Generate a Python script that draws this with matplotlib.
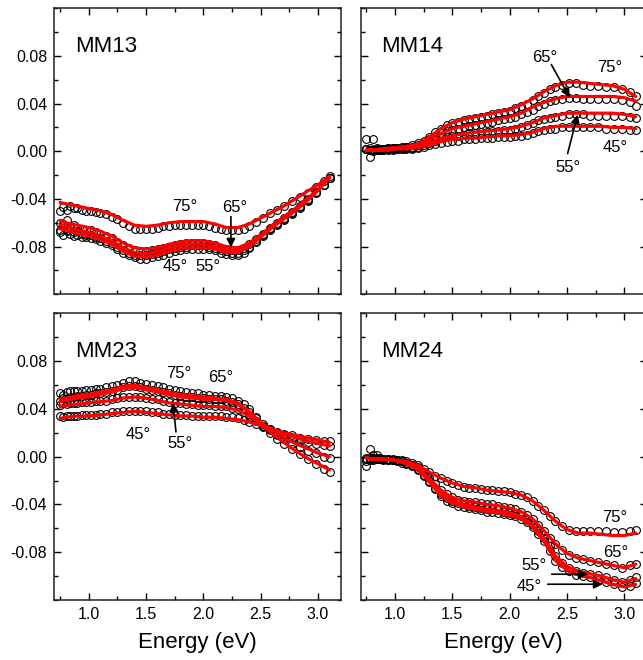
import matplotlib
matplotlib.use('Agg')
import matplotlib.pyplot as plt
from matplotlib.ticker import MultipleLocator, FormatStrFormatter

plt.rcParams['font.family'] = ['Liberation Sans', 'DejaVu Sans']
plt.rcParams['axes.unicode_minus'] = False

# ---------------- data ----------------
angles = ['45°', '55°', '65°', '75°']

energy_data = [0.75, 0.78, 0.81, 0.84, 0.87, 0.90, 0.94, 0.98, 1.02, 1.06,
               1.10, 1.15, 1.20, 1.25, 1.30, 1.35, 1.40, 1.45, 1.50, 1.55,
               1.60, 1.65, 1.70, 1.75, 1.80, 1.85, 1.90, 1.95, 2.00, 2.05,
               2.10, 2.15, 2.20, 2.25, 2.30, 2.35, 2.40, 2.46, 2.52, 2.58,
               2.64, 2.70, 2.77, 2.84, 2.91, 2.98, 3.05, 3.10]
energy_fit = [0.75, 0.8, 0.9, 1.0, 1.1, 1.2, 1.3, 1.4, 1.5, 1.6, 1.7, 1.8, 1.9,
              2.0, 2.1, 2.2, 2.3, 2.4, 2.5, 2.6, 2.7, 2.8, 2.9, 3.0, 3.1]

# MM13 measured
mm13_75 = [-0.050, -0.047, -0.049, -0.046, -0.048, -0.048, -0.049, -0.050, -0.050, -0.051,
           -0.052, -0.053, -0.055, -0.057, -0.060, -0.063, -0.065, -0.065, -0.065, -0.065,
           -0.064, -0.063, -0.063, -0.062, -0.062, -0.062, -0.062, -0.062, -0.062, -0.063,
           -0.064, -0.065, -0.066, -0.066, -0.066, -0.065, -0.063, -0.059, -0.056, -0.052,
           -0.049, -0.046, -0.042, -0.038, -0.035, -0.030, -0.025, -0.021]
mm13_65 = [-0.060, -0.063, -0.058, -0.064, -0.062, -0.064, -0.065, -0.066, -0.066, -0.068,
           -0.069, -0.071, -0.073, -0.076, -0.079, -0.081, -0.083, -0.084, -0.084, -0.083,
           -0.082, -0.081, -0.080, -0.079, -0.078, -0.077, -0.077, -0.077, -0.077, -0.078,
           -0.079, -0.081, -0.082, -0.083, -0.083, -0.081, -0.078, -0.074, -0.069, -0.064,
           -0.060, -0.056, -0.051, -0.046, -0.040, -0.034, -0.028, -0.022]
mm13_55 = [-0.066, -0.061, -0.067, -0.064, -0.068, -0.067, -0.069, -0.070, -0.070, -0.072,
           -0.073, -0.075, -0.077, -0.080, -0.083, -0.085, -0.087, -0.087, -0.087, -0.086,
           -0.085, -0.084, -0.082, -0.081, -0.080, -0.080, -0.079, -0.079, -0.079, -0.080,
           -0.081, -0.083, -0.084, -0.085, -0.085, -0.083, -0.080, -0.075, -0.070, -0.065,
           -0.061, -0.057, -0.052, -0.047, -0.041, -0.034, -0.028, -0.022]
mm13_45 = [-0.068, -0.070, -0.066, -0.069, -0.071, -0.070, -0.072, -0.072, -0.073, -0.074,
           -0.075, -0.077, -0.079, -0.082, -0.085, -0.087, -0.089, -0.090, -0.090, -0.089,
           -0.088, -0.087, -0.085, -0.084, -0.083, -0.082, -0.082, -0.082, -0.082, -0.082,
           -0.083, -0.085, -0.086, -0.087, -0.087, -0.085, -0.081, -0.076, -0.071, -0.066,
           -0.062, -0.058, -0.053, -0.048, -0.042, -0.035, -0.028, -0.022]
# MM13 fit
mm13_75_fit = [-0.043, -0.044, -0.046, -0.048, -0.050, -0.053, -0.058, -0.062, -0.063, -0.062,
               -0.060, -0.059, -0.059, -0.059, -0.061, -0.064, -0.064, -0.061, -0.056, -0.051,
               -0.046, -0.040, -0.034, -0.028, -0.021]
mm13_65_fit = [-0.058, -0.060, -0.062, -0.064, -0.067, -0.071, -0.077, -0.081, -0.082, -0.081,
               -0.078, -0.076, -0.075, -0.075, -0.077, -0.080, -0.081, -0.077, -0.070, -0.062,
               -0.055, -0.048, -0.040, -0.032, -0.022]
mm13_55_fit = [-0.062, -0.063, -0.066, -0.068, -0.071, -0.075, -0.081, -0.085, -0.086, -0.084,
               -0.081, -0.079, -0.078, -0.078, -0.080, -0.083, -0.083, -0.079, -0.071, -0.063,
               -0.056, -0.049, -0.041, -0.032, -0.022]
mm13_45_fit = [-0.065, -0.066, -0.069, -0.071, -0.074, -0.078, -0.084, -0.088, -0.089, -0.087,
               -0.084, -0.082, -0.081, -0.081, -0.082, -0.085, -0.085, -0.080, -0.072, -0.064,
               -0.057, -0.050, -0.042, -0.033, -0.022]

# MM14 measured
mm14_75 = [0.010, 0.003, 0.001, 0.003, 0.002, 0.002, 0.003, 0.003, 0.003, 0.004,
           0.004, 0.005, 0.007, 0.009, 0.012, 0.016, 0.019, 0.022, 0.024, 0.025,
           0.026, 0.027, 0.028, 0.029, 0.030, 0.031, 0.032, 0.033, 0.034, 0.036,
           0.038, 0.040, 0.043, 0.046, 0.049, 0.052, 0.054, 0.056, 0.057, 0.057,
           0.056, 0.055, 0.055, 0.054, 0.054, 0.052, 0.050, 0.046]
mm14_65 = [0.002, -0.005, 0.001, 0.002, 0.002, 0.002, 0.003, 0.003, 0.003, 0.003,
           0.004, 0.004, 0.005, 0.007, 0.010, 0.012, 0.015, 0.017, 0.018, 0.019,
           0.020, 0.021, 0.022, 0.023, 0.024, 0.025, 0.026, 0.027, 0.028, 0.029,
           0.031, 0.033, 0.035, 0.038, 0.040, 0.042, 0.043, 0.044, 0.045, 0.045,
           0.044, 0.044, 0.044, 0.044, 0.044, 0.043, 0.041, 0.038]
mm14_55 = [0.002, 0.001, 0.010, 0.001, 0.001, 0.001, 0.002, 0.002, 0.002, 0.002,
           0.003, 0.003, 0.004, 0.005, 0.007, 0.009, 0.011, 0.012, 0.013, 0.013,
           0.014, 0.015, 0.015, 0.016, 0.016, 0.017, 0.017, 0.018, 0.018, 0.019,
           0.020, 0.022, 0.024, 0.026, 0.027, 0.028, 0.029, 0.030, 0.031, 0.031,
           0.031, 0.030, 0.030, 0.030, 0.030, 0.030, 0.029, 0.028]
mm14_45 = [0.002, 0.001, 0.000, 0.001, 0.001, 0.001, 0.001, 0.001, 0.002, 0.002,
           0.002, 0.002, 0.003, 0.004, 0.005, 0.006, 0.007, 0.008, 0.009, 0.009,
           0.010, 0.010, 0.010, 0.011, 0.011, 0.011, 0.012, 0.012, 0.012, 0.013,
           0.013, 0.014, 0.015, 0.017, 0.018, 0.019, 0.019, 0.020, 0.020, 0.020,
           0.020, 0.020, 0.020, 0.019, 0.019, 0.019, 0.018, 0.018]
# MM14 fit
mm14_75_fit = [0.001, 0.001, 0.002, 0.003, 0.004, 0.006, 0.012, 0.019, 0.024, 0.027,
               0.029, 0.031, 0.033, 0.035, 0.039, 0.044, 0.050, 0.055, 0.058, 0.058,
               0.057, 0.056, 0.055, 0.052, 0.046]
mm14_65_fit = [0.001, 0.001, 0.002, 0.003, 0.004, 0.005, 0.010, 0.015, 0.019, 0.021,
               0.023, 0.025, 0.027, 0.029, 0.032, 0.037, 0.041, 0.044, 0.046, 0.046,
               0.046, 0.046, 0.046, 0.045, 0.042]
mm14_55_fit = [0.001, 0.001, 0.001, 0.002, 0.003, 0.004, 0.007, 0.011, 0.013, 0.015,
               0.016, 0.017, 0.018, 0.019, 0.021, 0.024, 0.028, 0.030, 0.032, 0.032,
               0.032, 0.032, 0.032, 0.031, 0.029]
mm14_45_fit = [0.001, 0.001, 0.001, 0.002, 0.002, 0.003, 0.005, 0.008, 0.010, 0.011,
               0.011, 0.012, 0.013, 0.013, 0.014, 0.016, 0.019, 0.021, 0.021, 0.021,
               0.021, 0.021, 0.020, 0.020, 0.019]

# MM23 measured
mm23_75 = [0.053, 0.052, 0.054, 0.055, 0.055, 0.055, 0.055, 0.056, 0.056, 0.057,
           0.057, 0.058, 0.059, 0.060, 0.062, 0.063, 0.063, 0.062, 0.061, 0.060,
           0.059, 0.058, 0.057, 0.056, 0.055, 0.054, 0.053, 0.053, 0.052, 0.052,
           0.051, 0.051, 0.050, 0.049, 0.047, 0.044, 0.040, 0.033, 0.026, 0.020,
           0.015, 0.011, 0.006, 0.002, -0.002, -0.006, -0.010, -0.013]
mm23_65 = [0.047, 0.049, 0.048, 0.050, 0.050, 0.051, 0.051, 0.052, 0.052, 0.053,
           0.053, 0.054, 0.055, 0.056, 0.058, 0.059, 0.059, 0.058, 0.057, 0.056,
           0.055, 0.054, 0.053, 0.052, 0.051, 0.050, 0.050, 0.049, 0.049, 0.048,
           0.048, 0.048, 0.047, 0.046, 0.044, 0.041, 0.037, 0.032, 0.027, 0.022,
           0.018, 0.015, 0.011, 0.008, 0.005, 0.003, 0.000, -0.001]
mm23_55 = [0.043, 0.045, 0.044, 0.045, 0.045, 0.045, 0.046, 0.046, 0.046, 0.047,
           0.047, 0.047, 0.048, 0.049, 0.050, 0.050, 0.050, 0.050, 0.049, 0.048,
           0.048, 0.047, 0.046, 0.045, 0.045, 0.044, 0.044, 0.043, 0.043, 0.043,
           0.042, 0.042, 0.042, 0.041, 0.040, 0.037, 0.034, 0.030, 0.026, 0.023,
           0.020, 0.018, 0.016, 0.014, 0.012, 0.011, 0.010, 0.009]
mm23_45 = [0.034, 0.033, 0.034, 0.034, 0.034, 0.034, 0.035, 0.035, 0.035, 0.035,
           0.036, 0.036, 0.037, 0.037, 0.038, 0.038, 0.038, 0.038, 0.038, 0.037,
           0.037, 0.036, 0.036, 0.035, 0.035, 0.035, 0.034, 0.034, 0.034, 0.034,
           0.034, 0.034, 0.033, 0.033, 0.032, 0.031, 0.029, 0.027, 0.025, 0.023,
           0.021, 0.019, 0.018, 0.016, 0.015, 0.014, 0.013, 0.013]
# MM23 fit
mm23_75_fit = [0.048, 0.049, 0.051, 0.052, 0.054, 0.056, 0.059, 0.060, 0.058, 0.056,
               0.054, 0.052, 0.051, 0.050, 0.049, 0.048, 0.045, 0.038, 0.028, 0.019,
               0.012, 0.005, -0.001, -0.006, -0.011]
mm23_65_fit = [0.046, 0.047, 0.049, 0.050, 0.052, 0.054, 0.057, 0.058, 0.056, 0.054,
               0.052, 0.050, 0.049, 0.048, 0.048, 0.047, 0.044, 0.037, 0.029, 0.022,
               0.016, 0.011, 0.007, 0.003, 0.000]
mm23_55_fit = [0.042, 0.043, 0.044, 0.045, 0.046, 0.047, 0.049, 0.050, 0.049, 0.047,
               0.045, 0.044, 0.043, 0.042, 0.042, 0.041, 0.039, 0.034, 0.028, 0.023,
               0.019, 0.016, 0.013, 0.011, 0.009]
mm23_45_fit = [0.032, 0.033, 0.034, 0.034, 0.035, 0.036, 0.037, 0.038, 0.037, 0.036,
               0.035, 0.034, 0.034, 0.033, 0.033, 0.032, 0.031, 0.029, 0.026, 0.023,
               0.020, 0.018, 0.016, 0.014, 0.012]

# MM24 measured
mm24_75 = [-0.004, 0.006, -0.001, 0.001, -0.001, -0.002, -0.002, -0.002, -0.003, -0.003,
           -0.004, -0.005, -0.007, -0.010, -0.013, -0.016, -0.018, -0.020, -0.022, -0.024,
           -0.025, -0.026, -0.026, -0.027, -0.028, -0.028, -0.029, -0.029, -0.030, -0.031,
           -0.032, -0.034, -0.037, -0.041, -0.045, -0.050, -0.054, -0.058, -0.061, -0.062,
           -0.062, -0.062, -0.062, -0.062, -0.063, -0.063, -0.062, -0.061]
mm24_65 = [-0.002, -0.001, 0.001, -0.001, -0.002, -0.002, -0.002, -0.003, -0.003, -0.004,
           -0.005, -0.007, -0.009, -0.013, -0.018, -0.023, -0.028, -0.031, -0.034, -0.036,
           -0.037, -0.038, -0.038, -0.039, -0.040, -0.040, -0.041, -0.042, -0.043, -0.044,
           -0.046, -0.049, -0.052, -0.057, -0.062, -0.068, -0.073, -0.078, -0.082, -0.085,
           -0.086, -0.087, -0.088, -0.090, -0.091, -0.093, -0.091, -0.090]
mm24_55 = [-0.001, -0.003, -0.002, -0.002, -0.002, -0.002, -0.003, -0.003, -0.003, -0.004,
           -0.005, -0.007, -0.010, -0.015, -0.020, -0.026, -0.031, -0.035, -0.037, -0.039,
           -0.040, -0.041, -0.042, -0.043, -0.044, -0.044, -0.045, -0.046, -0.047, -0.048,
           -0.050, -0.053, -0.057, -0.062, -0.068, -0.075, -0.083, -0.089, -0.093, -0.096,
           -0.097, -0.098, -0.099, -0.101, -0.103, -0.105, -0.103, -0.101]
mm24_45 = [-0.008, -0.002, -0.003, -0.002, -0.002, -0.003, -0.003, -0.003, -0.004, -0.005,
           -0.006, -0.008, -0.011, -0.016, -0.021, -0.027, -0.033, -0.037, -0.039, -0.041,
           -0.042, -0.043, -0.044, -0.045, -0.046, -0.046, -0.047, -0.048, -0.049, -0.050,
           -0.052, -0.055, -0.059, -0.065, -0.071, -0.079, -0.087, -0.092, -0.096, -0.099,
           -0.100, -0.101, -0.103, -0.105, -0.107, -0.109, -0.108, -0.106]
# MM24 fit
mm24_75_fit = [-0.001, -0.002, -0.002, -0.003, -0.004, -0.007, -0.013, -0.018, -0.022, -0.025,
               -0.026, -0.028, -0.029, -0.030, -0.032, -0.037, -0.045, -0.054, -0.061, -0.064,
               -0.064, -0.065, -0.066, -0.066, -0.064]
mm24_65_fit = [-0.001, -0.002, -0.002, -0.003, -0.005, -0.009, -0.018, -0.028, -0.034, -0.037,
               -0.038, -0.040, -0.041, -0.043, -0.046, -0.052, -0.062, -0.073, -0.081, -0.085,
               -0.087, -0.089, -0.091, -0.093, -0.090]
mm24_55_fit = [-0.001, -0.002, -0.002, -0.003, -0.005, -0.010, -0.020, -0.031, -0.037, -0.040,
               -0.042, -0.044, -0.045, -0.047, -0.050, -0.057, -0.068, -0.083, -0.092, -0.096,
               -0.098, -0.100, -0.103, -0.105, -0.102]
mm24_45_fit = [-0.001, -0.002, -0.002, -0.003, -0.006, -0.011, -0.021, -0.033, -0.039, -0.042,
               -0.044, -0.046, -0.047, -0.049, -0.052, -0.059, -0.071, -0.087, -0.095, -0.099,
               -0.101, -0.104, -0.107, -0.109, -0.107]

panels = [
    ('MM13', [mm13_45, mm13_55, mm13_65, mm13_75],
             [mm13_45_fit, mm13_55_fit, mm13_65_fit, mm13_75_fit]),
    ('MM14', [mm14_45, mm14_55, mm14_65, mm14_75],
             [mm14_45_fit, mm14_55_fit, mm14_65_fit, mm14_75_fit]),
    ('MM23', [mm23_45, mm23_55, mm23_65, mm23_75],
             [mm23_45_fit, mm23_55_fit, mm23_65_fit, mm23_75_fit]),
    ('MM24', [mm24_45, mm24_55, mm24_65, mm24_75],
             [mm24_45_fit, mm24_55_fit, mm24_65_fit, mm24_75_fit]),
]

# ---------------- figure ----------------
W, H = 643, 660
fig = plt.figure(figsize=(W / 100, H / 100), dpi=100)

def px_axes(left, top, right, bottom):
    return fig.add_axes([left / W, 1 - bottom / H, (right - left) / W, (bottom - top) / H])

axes = [
    px_axes(54.3, 8.3, 341.0, 294.3),
    px_axes(360.5, 8.3, 647.2, 294.3),
    px_axes(54.3, 313.3, 341.0, 600.0),
    px_axes(360.5, 313.3, 647.2, 600.0),
]

for i, (ax, (name, meas, fits)) in enumerate(zip(axes, panels)):
    for d in meas:
        ax.plot(energy_data, d, linestyle='none', marker='o', markersize=5.6,
                markerfacecolor='none', markeredgecolor='black', markeredgewidth=0.8,
                zorder=2)
    for f in fits:
        ax.plot(energy_fit, f, color='#ff0000', linewidth=2.3, zorder=3,
                solid_capstyle='round', solid_joinstyle='round')
    ax.set_xlim(0.7, 3.2)
    ax.set_ylim(-0.12, 0.12)
    ax.xaxis.set_major_locator(MultipleLocator(0.5))
    ax.xaxis.set_minor_locator(MultipleLocator(0.25))
    ax.set_yticks([-0.08, -0.04, 0.0, 0.04, 0.08])
    ax.yaxis.set_minor_locator(MultipleLocator(0.02))
    ax.xaxis.set_major_formatter(FormatStrFormatter('%.1f'))
    ax.yaxis.set_major_formatter(FormatStrFormatter('%.2f'))
    ax.tick_params(which='both', direction='in', top=True, right=True,
                   labelsize=11.5, colors='black', pad=5)
    ax.tick_params(which='major', length=5, width=1.0)
    ax.tick_params(which='minor', length=3, width=1.0)
    for sp in ax.spines.values():
        sp.set_linewidth(1.1)
        sp.set_color('#222222')
    if i % 2 == 1:
        ax.tick_params(labelleft=False)
    if i < 2:
        ax.tick_params(labelbottom=False)
    else:
        ax.set_xlabel('Energy (eV)', fontsize=16, labelpad=7)
    ax.text(0.88, 0.088, name, fontsize=16, ha='left', va='center')

arrow = dict(arrowstyle='-|>', color='black', lw=1.2, mutation_scale=13,
             shrinkA=0, shrinkB=0)
lab = dict(fontsize=12, ha='center', va='center')

a = axes[0]
a.text(1.84, -0.0464, '75°', **lab)
a.text(2.276, -0.0473, '65°', **lab)
a.text(1.752, -0.0968, '45°', **lab)
a.text(2.04, -0.0968, '55°', **lab)
a.annotate('', xy=(2.24, -0.0808), xytext=(2.24, -0.0548), arrowprops=arrow)

a = axes[1]
a.text(2.306, 0.0786, '65°', **lab)
a.text(2.874, 0.0702, '75°', **lab)
a.text(2.925, 0.0031, '45°', **lab)
a.text(2.506, -0.0137, '55°', **lab)
a.annotate('', xy=(2.524, 0.0451), xytext=(2.364, 0.0728), arrowprops=arrow)
a.annotate('', xy=(2.593, 0.0308), xytext=(2.506, -0.0019), arrowprops=arrow)

a = axes[2]
a.text(1.787, 0.0694, '75°', **lab)
a.text(2.153, 0.066, '65°', **lab)
a.text(1.43, 0.0183, '45°', **lab)
a.text(1.796, 0.0107, '55°', **lab)
a.annotate('', xy=(1.735, 0.0451), xytext=(1.761, 0.0207), arrowprops=arrow)

a = axes[3]
a.text(2.916, -0.0507, '75°', **lab)
a.text(2.925, -0.080, '65°', **lab)
a.text(2.21, -0.091, '55°', **lab)
a.text(2.175, -0.1085, '45°', **lab)
a.annotate('', xy=(2.681, -0.0984), xytext=(2.367, -0.0984), arrowprops=arrow)
a.annotate('', xy=(2.812, -0.1068), xytext=(2.332, -0.1068), arrowprops=arrow)

fig.savefig('out.png', dpi=100)
